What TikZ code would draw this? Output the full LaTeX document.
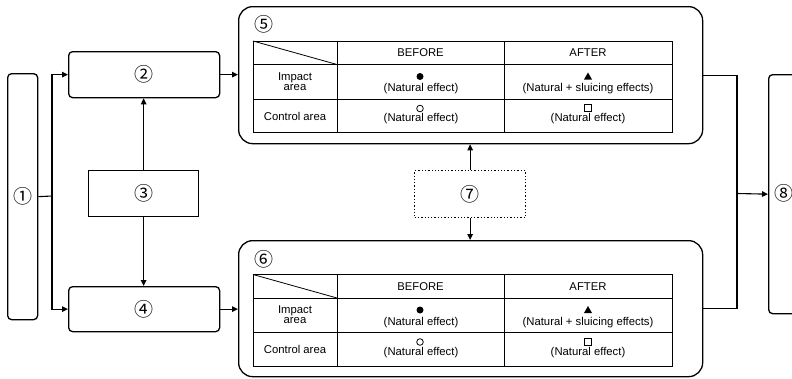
\documentclass[tikz,border=0pt]{standalone}
\usepackage{fontspec}
\setmainfont{Liberation Sans}
\newfontfamily\circfont{Noto Sans CJK JP}
\usetikzlibrary{arrows.meta}
\newcommand\cnum[1]{{\fontsize{19}{19}\selectfont\circfont #1}}
\tikzset{
  rbox/.style={draw, line width=1.3pt, rounded corners=4pt, inner sep=0pt, anchor=north west},
  sbox/.style={draw, line width=1.3pt, inner sep=0pt, anchor=north west},
  bigbox/.style={draw, line width=1.3pt, rounded corners=14pt, inner sep=0pt, anchor=north west},
  dotbox/.style={draw, line width=1.3pt, dotted, inner sep=0pt, anchor=north west},
  conn/.style={line width=1.1pt},
  arr/.style={line width=1.1pt, -{Triangle[length=6pt,width=5.5pt]}},
  tline/.style={line width=0.8pt},
  ttext/.style={font=\fontsize{11.3}{9.8}\selectfont, align=center, inner sep=0pt},
}
\newcommand\efftable{%
  \draw[tline] (253,0) rectangle (672,91.5);
  \draw[tline] (253,23.5) -- (672,23.5);
  \draw[tline] (253,58) -- (672,58);
  \draw[tline] (337,0) -- (337,91.5);
  \draw[tline] (504,0) -- (504,91.5);
  \draw[tline] (253,0) -- (337,23.5);
  \node[ttext] at (420.5,12) {BEFORE};
  \node[ttext] at (588,12) {AFTER};
  \node[ttext] at (295,40.5) {Impact\\area};
  \node[ttext] at (295,75) {Control area};
  \fill (420,35.5) circle (3.5pt);
  \node[ttext] at (421,48) {(Natural effect)};
  \fill (588,31.5) -- (592,38.5) -- (584,38.5) -- cycle;
  \node[ttext] at (588,48) {(Natural + sluicing effects)};
  \draw[line width=0.8pt] (420,67.5) circle (3.3pt);
  \node[ttext] at (421,78) {(Natural effect)};
  \draw[line width=0.8pt] (584.5,63.5) rectangle (591.5,70.5);
  \node[ttext] at (588,78) {(Natural effect)};
}
\begin{document}
\begin{tikzpicture}[x=1pt,y=-1pt]
\useasboundingbox (0,0) rectangle (792,378);
% boxes
\node[rbox, minimum width=30pt, minimum height=246pt] (n1) at (7,73) {};
\node at (n1.center) {\cnum{①}};
\node[rbox, minimum width=151pt, minimum height=46pt] (n2) at (68,51) {};
\node at (n2.center) {\cnum{②}};
\node[sbox, minimum width=110pt, minimum height=46pt] (n3) at (88,170) {};
\node at (n3.center) {\cnum{③}};
\node[rbox, minimum width=151pt, minimum height=45pt] (n4) at (68,286) {};
\node at (n4.center) {\cnum{④}};
\node[bigbox, minimum width=464pt, minimum height=137pt] (n5) at (238,6) {};
\node at (264,24) {\cnum{⑤}};
\node[bigbox, minimum width=464pt, minimum height=136pt] (n6) at (238,240) {};
\node at (264,259) {\cnum{⑥}};
\node[dotbox, minimum width=111pt, minimum height=47pt] (n7) at (414,170) {};
\node at (n7.center) {\cnum{⑦}};
\node[rbox, minimum width=60pt, minimum height=239pt] (n8) at (768,74) {};
\node at (784,193.5) {\cnum{⑧}};
% tables
\begin{scope}[shift={(0,41)}]
\efftable
\end{scope}
\begin{scope}[shift={(0,274.5)}]
\efftable
\end{scope}
% connectors
\coordinate (j1) at (52,196);
\draw[conn] (n1.east) -- (j1);
\draw[arr] (j1) |- (n2.west);
\draw[arr] (j1) |- (n4.west);
\draw[arr] (n3.north) -- (n2.south -| n3.north);
\draw[arr] (n3.south) -- (n4.north -| n3.south);
\draw[arr] (n2.east) -- (n2.east -| n5.west);
\draw[arr] (n4.east) -- (n4.east -| n6.west);
\draw[arr] (n7.north) -- (n7.north |- n5.south);
\draw[arr] (n7.south) -- (n7.south |- n6.north);
\coordinate (j2) at (737,193.5);
\draw[conn] (n5.east) -- (j2 |- n5.east) -- (j2 |- n6.east) -- (n6.east);
\draw[arr] (j2) -- (n8.west);
\end{tikzpicture}
\end{document}
